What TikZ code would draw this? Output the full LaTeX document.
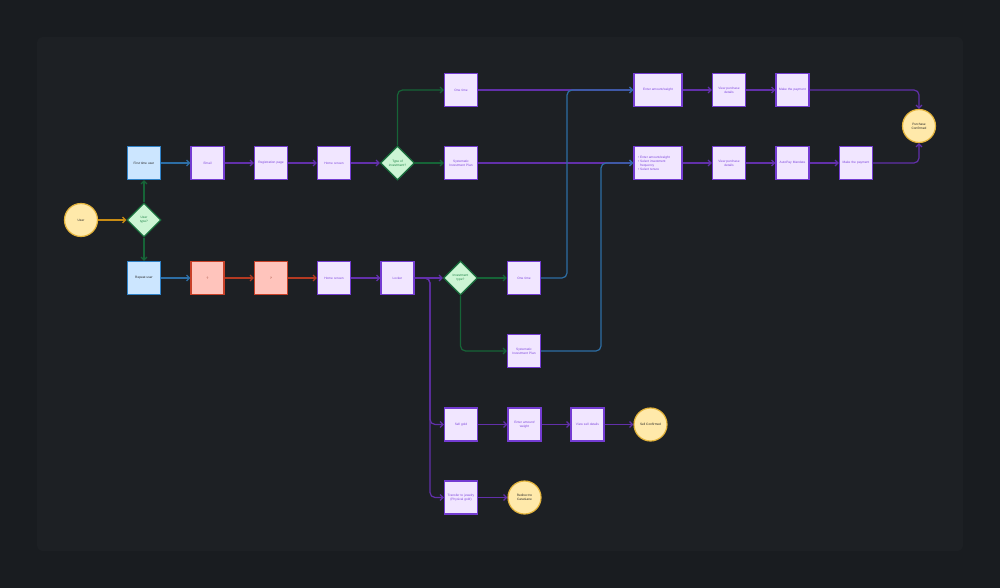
\documentclass[tikz,border=0pt]{standalone}
\usepackage{fontspec}
\setmainfont{Liberation Sans}
\usetikzlibrary{arrows.meta,shapes.geometric}
\definecolor{bgout}{RGB}{25,28,32}
\definecolor{bgin}{RGB}{29,32,36}
\definecolor{pfill}{RGB}{241,230,255}
\definecolor{pdraw}{RGB}{116,60,210}
\definecolor{ptext}{RGB}{125,70,220}
\definecolor{bfill}{RGB}{204,230,255}
\definecolor{bdraw}{RGB}{48,130,200}
\definecolor{rfill}{RGB}{255,196,188}
\definecolor{rdraw}{RGB}{200,64,40}
\definecolor{gfill}{RGB}{204,245,212}
\definecolor{gdraw}{RGB}{24,110,60}
\definecolor{gtext}{RGB}{30,130,70}
\definecolor{yfill}{RGB}{255,233,170}
\definecolor{ydraw}{RGB}{228,180,60}
\definecolor{cpurple}{RGB}{98,48,170}
\definecolor{cgreen}{RGB}{22,100,55}
\definecolor{cblue}{RGB}{45,110,165}
\definecolor{corange}{RGB}{200,140,20}
\definecolor{cred}{RGB}{180,58,34}
\tikzset{
  txt/.style={font=\fontsize{3.2}{4}\selectfont},
  pbox/.style={txt,draw=pdraw,fill=pfill,text=ptext,line width=1.2pt,minimum width=33pt,minimum height=33pt,inner sep=1pt,text width=30pt,align=center},
  wbox/.style={pbox,minimum width=48pt,text width=45pt},
  bbox/.style={pbox,draw=bdraw,fill=bfill,text=black!85},
  rbox/.style={pbox,draw=rdraw,fill=rfill,text=rdraw!70!black},
  dia/.style={txt,diamond,draw=gdraw,fill=gfill,text=gtext,line width=1.2pt,minimum width=34pt,minimum height=34pt,inner sep=0pt,align=center},
  circ/.style={txt,circle,draw=ydraw,fill=yfill,text=black!85,line width=1.2pt,minimum size=33pt,inner sep=0pt,align=center},
  arr/.style={-{Straight Barb[length=3pt,width=6pt]},line width=1.2pt,rounded corners=5pt}
}
\begin{document}
\begin{tikzpicture}[x=1pt,y=-1pt]
\fill[bgout] (0,0) rectangle (1000,588);
\useasboundingbox (0,0) rectangle (1000,588);
\fill[bgin,rounded corners=6pt] (37,37) rectangle (963,551);

% nodes
\node[circ] (user) at (81,220) {User};
\node[dia] (utype) at (144,220) {User\\type?};
\node[bbox] (ftu) at (144,163) {First time user};
\node[bbox] (ru) at (144,278) {Repeat user};
\node[pbox] (email) at (207.5,163) {Email};
\node[pbox] (reg) at (271,163) {Registration page};
\node[pbox] (home1) at (334,163) {Home screen};
\node[dia] (toi) at (397.5,163) {Type of\\investment?};
\node[pbox] (ot1) at (461,90) {One time};
\node[pbox] (sip1) at (461,163) {Systematic\\Investment Plan};
\node[wbox] (ea1) at (658,90) {Enter amount/weight};
\node[pbox] (vpd1) at (729,90) {View purchase\\details};
\node[pbox] (mp1) at (792.5,90) {Make the payment};
\node[circ] (pc) at (919,126) {Purchase\\Confirmed};
\node[wbox,align=left,text width=40pt] (sipb) at (658,163) {\textbullet\ Enter amount/weight\\\textbullet\ Select investment\\\hphantom{\textbullet\ }frequency\\\textbullet\ Select tenure};
\node[pbox] (vpd2) at (729,163) {View purchase\\details};
\node[pbox] (apm) at (792.5,163) {AutoPay Mandate};
\node[pbox] (mp2) at (856,163) {Make the payment};

\node[rbox] (r1) at (207.5,278) {?};
\node[rbox] (r2) at (271,278) {?};
\node[pbox] (home2) at (334,278) {Home screen};
\node[pbox] (locker) at (397.5,278) {Locker};
\node[dia] (it) at (460.5,278) {Investment\\type?};
\node[pbox] (ot2) at (524,278) {One time};
\node[pbox] (sip2) at (524,351) {Systematic\\Investment Plan};
\node[pbox] (sell) at (461,424.5) {Sell gold};
\node[pbox] (ea3) at (524.5,424.5) {Enter amount/\\weight};
\node[pbox] (vsd) at (587.5,424.5) {View sell details};
\node[circ] (sc) at (650.5,424.5) {Sell Confirmed};
\node[pbox] (tj) at (461,497.5) {Transfer to jewelry\\(Physical gold)};
\node[circ] (rc) at (524.5,497.5) {Redirect to\\CaratLane};

% connectors
\draw[arr,corange] (user) -- (utype);
\draw[arr,cgreen] (utype) -- (ftu);
\draw[arr,cgreen] (utype) -- (ru);
\draw[arr,cblue] (ftu) -- (email);
\draw[arr,cpurple] (email) -- (reg);
\draw[arr,cpurple] (reg) -- (home1);
\draw[arr,cpurple] (home1) -- (toi);
\draw[arr,cgreen] (toi.north) |- (ot1);
\draw[arr,cgreen] (toi) -- (sip1);
\draw[arr,cpurple] (ot1) -- (ea1);
\draw[arr,cpurple] (sip1) -- (sipb);
\draw[arr,cpurple] (ea1) -- (vpd1);
\draw[arr,cpurple] (vpd1) -- (mp1);
\draw[arr,cpurple] (mp1) -| (pc);
\draw[arr,cpurple] (sipb) -- (vpd2);
\draw[arr,cpurple] (vpd2) -- (apm);
\draw[arr,cpurple] (apm) -- (mp2);
\draw[arr,cpurple] (mp2) -| (pc);

\draw[arr,cblue] (ru) -- (r1);
\draw[arr,cred] (r1) -- (r2);
\draw[arr,cred] (r2) -- (home2);
\draw[arr,cpurple] (home2) -- (locker);
\draw[arr,cpurple] (locker) -- (it);
\draw[arr,cpurple] (locker.east) -- (430,278) |- (sell);
\draw[arr,cpurple] (locker.east) -- (430,278) |- (tj);
\draw[arr,cgreen] (it) -- (ot2);
\draw[arr,cgreen] (it.south) |- (sip2);
\draw[arr,cblue] (ot2) -- (567,278) |- (ea1);
\draw[arr,cblue] (sip2) -- (601,351) |- (sipb);
\draw[arr,cpurple] (sell) -- (ea3);
\draw[arr,cpurple] (ea3) -- (vsd);
\draw[arr,cpurple] (vsd) -- (sc);
\draw[arr,cpurple] (tj) -- (rc);
\end{tikzpicture}
\end{document}
